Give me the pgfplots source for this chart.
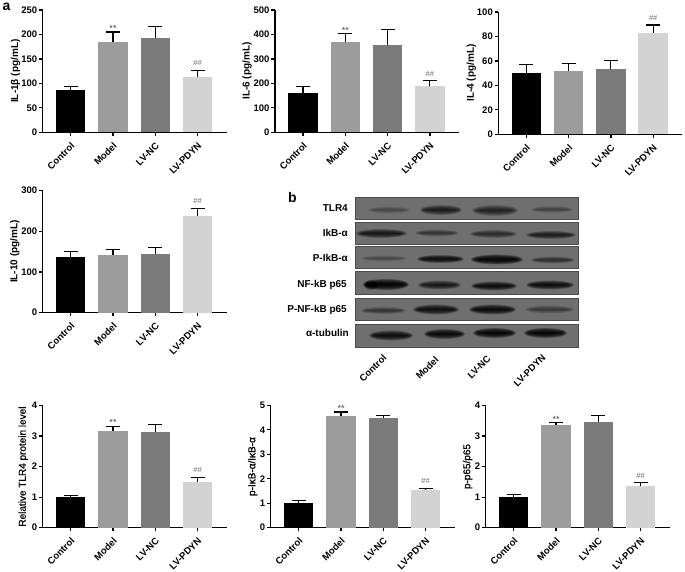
\documentclass[border=0pt]{standalone}
\usepackage{fontspec}
\setmainfont{Liberation Sans}
\newfontface\semibold[FakeBold=0.8]{Liberation Sans}
\usepackage{pgfplots}
\pgfplotsset{compat=1.18}

% bar colours, as in the figure
\definecolor{barA}{gray}{0}
\definecolor{barB}{HTML}{9C9C9C}
\definecolor{barC}{HTML}{7B7B7B}
\definecolor{barD}{HTML}{D3D3D3}
\definecolor{strip}{HTML}{6F6F6F}

\newcommand{\ticksize}{\fontsize{9.5}{10}\selectfont\bfseries}
\newcommand{\labsize}{\fontsize{10}{11}\selectfont\bfseries}

\pgfplotsset{
  panel/.style={
    scale only axis, width=184pt, height=122.3pt,
    anchor=south west, clip=false,
    ybar, bar width=29.5pt, bar shift=0pt,
    xmin=-0.662, xmax=3.688, ymin=0,
    axis x line*=bottom, axis y line*=left,
    axis line style={-, line width=1.2pt, black},
    tick style={line width=1.2pt, black},
    tick align=outside, major tick length=3.8pt,
    xtick={0,1,2,3}, xticklabels={Control,Model,LV-NC,LV-PDYN},
    x tick label style={rotate=45, anchor=north east, inner sep=1pt, xshift=-3pt, yshift=-2.5pt, font=\ticksize},
    y tick label style={inner sep=1.5pt, font=\ticksize},
    /pgf/number format/assume math mode=true,
    minor tick num=0,
    scaled y ticks=false,
  },
  ylabx/.style={ylabel style={at={(axis description cs:#1,0.5)}, anchor=center}},
  one bar/.style={fill=#1, draw=none,
    error bars/.cd, y dir=plus, y explicit,
    error bar style={line width=1.1pt, black},
    error mark options={rotate=90, mark size=7pt, line width=1.1pt, black}},
}

% four bars: value and error of each group
\newcommand{\fourbars}[8]{
  \addplot[one bar=barA] coordinates {(0,#1) +- (0,#2)};
  \addplot[one bar=barB] coordinates {(1,#3) +- (0,#4)};
  \addplot[one bar=barC] coordinates {(2,#5) +- (0,#6)};
  \addplot[one bar=barD] coordinates {(3,#7) +- (0,#8)};
}
\newcommand{\stars}[1]{\node[anchor=south, inner sep=0pt, text=black!75, font=\fontsize{9}{9}\selectfont] at (axis cs:1,#1) {**};}
\newcommand{\hashes}[1]{\node[anchor=south, inner sep=0pt, yshift=4.5pt, text=black!60, font=\fontsize{7.5}{8}\selectfont] at (axis cs:3,#1) {\#\#};}

% blot strip, given in image pixels (y downward)
\newcommand{\blot}[2]{\fill[strip, draw=black!70, line width=0.7pt] (355.7,572-#1) rectangle (578.5,572-#2);}
% x1, x2, y centre, half height, darkness of one layer
\newcommand{\band}[5]{%
  \foreach \f in {1,0.86,0.72,0.58,0.44,0.3,0.18}{
    \fill[black, opacity=#5*0.55] ({(#1+#2)/2},{572-#3}) ellipse [x radius={(#2-#1)/2*(0.72+0.28*\f)}, y radius={#4*\f}];
  }}

\begin{document}
\begin{tikzpicture}[x=1pt,y=1pt]
\useasboundingbox (0,0) rectangle (685,572);

% ---- western blot ----
\blot{197.3}{219.7}
\blot{222.3}{244.3}
\blot{246.3}{268.3}
\blot{271.3}{294.3}
\blot{298.3}{320.7}
\blot{324.3}{347.7}
% TLR4
\band{368}{410}{210}{3.5}{.10}
\band{420}{462}{210}{5}{.30}
\band{472}{518}{210.5}{5.5}{.25}
\band{531}{573}{209.5}{3.5}{.12}
% IkB-a
\band{355.7}{407}{233.5}{4.5}{.34}
\band{415}{459}{233}{3.5}{.18}
\band{470}{517}{234}{4}{.22}
\band{526}{576}{235}{4}{.30}
% P-IkB-a
\band{361}{407}{258.5}{3}{.10}
\band{417}{464}{259}{4}{.42}
\band{471}{523}{259.5}{5}{.50}
\band{531}{575}{260}{3.5}{.20}
% NF-kB p65
\band{363}{409}{284.5}{5.5}{.55}
\band{364}{378}{285}{5}{.40}
\band{418}{461}{285}{4.5}{.32}
\band{471}{517}{286}{4.5}{.42}
\band{526}{574}{285}{4.5}{.42}
% P-NF-kB p65
\band{361}{406}{310.5}{3.5}{.18}
\band{413}{459}{309.5}{5}{.40}
\band{469}{516}{309.5}{5}{.44}
\band{525}{574}{309.5}{4}{.16}
% a-tubulin
\band{369}{413}{335.5}{5}{.42}
\band{424}{465}{334}{5}{.46}
\band{473}{516}{333}{5}{.50}
\band{524}{567}{333}{5}{.50}

\begin{scope}[font=\labsize]
  \node[anchor=east, inner sep=0pt] at (348,572-208) {TLR4};
  \node[anchor=east, inner sep=0pt] at (348,572-233) {IkB-α};
  \node[anchor=east, inner sep=0pt] at (348,572-258) {P-IkB-α};
  \node[anchor=east, inner sep=0pt] at (347,572-285) {NF-kB p65};
  \node[anchor=east, inner sep=0pt] at (347,572-310) {P-NF-kB p65};
  \node[anchor=east, inner sep=0pt] at (349,572-333) {α-tubulin};
\end{scope}
\begin{scope}[font=\ticksize]
  \node[rotate=45, anchor=east, inner sep=0pt] at (385,572-356) {Control};
  \node[rotate=45, anchor=east, inner sep=0pt] at (437,572-358) {Model};
  \node[rotate=45, anchor=east, inner sep=0pt] at (489,572-357) {LV-NC};
  \node[rotate=45, anchor=east, inner sep=0pt] at (544,572-356) {LV-PDYN};
\end{scope}

\node[font=\fontsize{14}{14}\selectfont\bfseries, inner sep=0pt] at (6.5,572-7) {a};
\node[font=\fontsize{14}{14}\selectfont\bfseries, inner sep=0pt] at (292.5,572-198) {b};

% ---- IL-1beta ----
\begin{axis}[panel, at={(42.7pt,439.7pt)}, ymax=250, ytick={0,50,...,250},
    ylabx=-0.147, ylabel={\labsize IL-1β (pg/mL)}]
  \fourbars{87}{7}{184}{21}{192}{25}{113}{14}
  \stars{205}
  \hashes{127}
\end{axis}

% ---- IL-6 ----
\begin{axis}[panel, at={(275pt,439.7pt)}, ymax=500, ytick={0,100,...,500},
    ylabx=-0.152, ylabel={\labsize IL-6 (pg/mL)}]
  \fourbars{162}{26}{370}{33}{356}{63}{188}{22}
  \stars{403}
  \hashes{210}
\end{axis}

% ---- IL-4 ----
\begin{axis}[panel, at={(498.3pt,437.7pt)}, ymax=100, ytick={0,20,...,100},
    ylabx=-0.147, ylabel={\labsize IL-4 (pg/mL)}]
  \fourbars{50}{7}{52}{6}{53.6}{6.6}{83}{6.4}
  \hashes{89.4}
\end{axis}

% ---- IL-10 ----
\begin{axis}[panel, at={(42.7pt,259.3pt)}, ymax=300, ytick={0,100,200,300},
    ylabx=-0.152, ylabel={\labsize IL-10 (pg/mL)}]
  \fourbars{136}{14}{142}{12}{145}{14}{238}{18}
  \hashes{256}
\end{axis}

% ---- TLR4 ----
\begin{axis}[panel, at={(42.7pt,44.3pt)}, ymax=4, ytick={0,1,2,3,4},
    ylabx=-0.106, ylabel={\fontsize{10}{11}\selectfont\semibold Relative TLR4 protein level}]
  \fourbars{1.02}{0.03}{3.17}{0.15}{3.14}{0.23}{1.51}{0.13}
  \stars{3.32}
  \hashes{1.64}
\end{axis}

% ---- p-IkB/IkB ----
\begin{axis}[panel, at={(270.7pt,44.3pt)}, ymax=5, ytick={0,1,2,3,4,5},
    ylabx=-0.098, ylabel={\fontsize{10}{11}\selectfont\semibold p-IκB-α/IκB-α}]
  \fourbars{1.03}{0.07}{4.55}{0.18}{4.5}{0.1}{1.55}{0.05}
  \stars{4.73}
  \hashes{1.6}
\end{axis}

% ---- p-p65/p65 ----
\begin{axis}[panel, at={(485.7pt,44.3pt)}, ymax=4, ytick={0,1,2,3,4},
    ylabx=-0.098, ylabel={\fontsize{10}{11}\selectfont\semibold p-p65/p65}]
  \fourbars{1.02}{0.06}{3.37}{0.08}{3.47}{0.2}{1.38}{0.09}
  \stars{3.45}
  \hashes{1.47}
\end{axis}
\end{tikzpicture}
\end{document}
